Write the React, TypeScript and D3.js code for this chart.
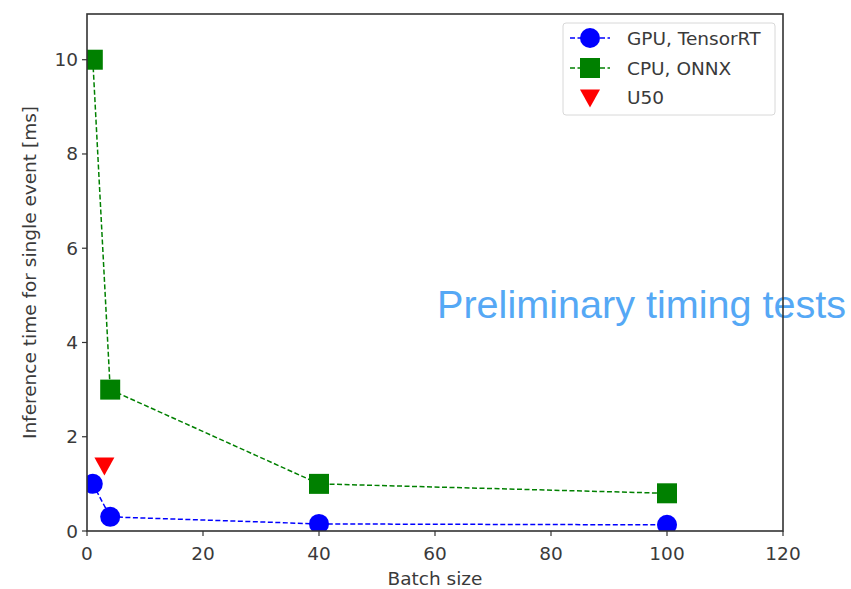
import React from "react";
import * as d3 from "d3";

const gpuBatch = [1, 4, 40, 100];
const gpuTime = [1.0, 0.3, 0.15, 0.13];
const cpuBatch = [1, 4, 40, 100];
const cpuTime = [10.0, 3.0, 1.0, 0.8];
const u50Batch = [3];
const u50Time = [1.4];
const xTicks = [0, 20, 40, 60, 80, 100, 120];
const yTicks = [0, 2, 4, 6, 8, 10];
const legendLabels = ["GPU, TensorRT", "CPU, ONNX", "U50"];

const W = 851, H = 589;
const L = 87, R = 783, T = 14, B = 531;

export default function App() {
  const x = d3.scaleLinear().domain([0, 120]).range([L, R]);
  const y = d3.scaleLinear().domain([0, 10.97]).range([B, T]);
  const line = d3.line<[number, number]>().x(d => x(d[0])).y(d => y(d[1]));
  const gpu = gpuBatch.map((b, i) => [b, gpuTime[i]] as [number, number]);
  const cpu = cpuBatch.map((b, i) => [b, cpuTime[i]] as [number, number]);
  const u50 = u50Batch.map((b, i) => [b, u50Time[i]] as [number, number]);
  const tri = (cx: number, cy: number, s: number) =>
    `M${cx - s},${cy - s * 0.75}L${cx + s},${cy - s * 0.75}L${cx},${cy + s * 1.05}Z`;
  const font = "'DejaVu Sans', sans-serif";
  const fs = 18.5;
  const tc = "#3a3a3a";
  const legY = [38, 68, 97];
  return (
    <svg width={W} height={H} style={{ position: "absolute", left: 0, top: 0, background: "#fff" }}>
      <defs>
        <clipPath id="plotclip">
          <rect x={L} y={T} width={R - L} height={B - T} />
        </clipPath>
      </defs>
      <text x={437} y={318} fontFamily="'Liberation Sans', Arial, sans-serif" fontSize={39.6} fill="#55a8f5">
        Preliminary timing tests
      </text>
      <g clipPath="url(#plotclip)">
        <path d={line(cpu) || ""} fill="none" stroke="#008000" strokeWidth={1.5} strokeDasharray="5,2.5" />
        {cpu.map((d, i) => (
          <rect key={"c" + i} x={x(d[0]) - 10} y={y(d[1]) - 10} width={20} height={20} fill="#008000" />
        ))}
        <path d={line(gpu) || ""} fill="none" stroke="#0000ff" strokeWidth={1.5} strokeDasharray="5,2.5" />
        {gpu.map((d, i) => (
          <circle key={"g" + i} cx={x(d[0])} cy={y(d[1])} r={10} fill="#0000ff" />
        ))}
        {u50.map((d, i) => (
          <path key={"u" + i} d={tri(x(d[0]), y(d[1]), 10)} fill="#ff0000" />
        ))}
      </g>
      <rect x={L} y={T} width={R - L} height={B - T} fill="none" stroke="#333" strokeWidth={1.6} />
      {xTicks.map(t => (
        <g key={"x" + t}>
          <line x1={x(t)} x2={x(t)} y1={B} y2={B + 5} stroke="#333" strokeWidth={1.2} />
          <text x={x(t)} y={560} textAnchor="middle" fontFamily={font} fontSize={fs} fill={tc}>{t}</text>
        </g>
      ))}
      {yTicks.map(t => (
        <g key={"y" + t}>
          <line x1={L - 5} x2={L} y1={y(t)} y2={y(t)} stroke="#333" strokeWidth={1.2} />
          <text x={L - 9} y={y(t) + 6.5} textAnchor="end" fontFamily={font} fontSize={fs} fill={tc}>{t}</text>
        </g>
      ))}
      <text x={(L + R) / 2} y={585} textAnchor="middle" fontFamily={font} fontSize={fs} fill={tc}>Batch size</text>
      <text transform={`translate(36,${(T + B) / 2}) rotate(-90)`} textAnchor="middle" fontFamily={font} fontSize={fs} fill={tc}>
        Inference time for single event [ms]
      </text>
      <rect x={563} y={23} width={212} height={92} rx={3} fill="#fff" fillOpacity={0.85} stroke="#d8d8d8" strokeWidth={1} />
      <line x1={570} x2={610} y1={legY[0]} y2={legY[0]} stroke="#0000ff" strokeWidth={1.5} strokeDasharray="5,2.5" />
      <circle cx={590} cy={legY[0]} r={10} fill="#0000ff" />
      <line x1={570} x2={610} y1={legY[1]} y2={legY[1]} stroke="#008000" strokeWidth={1.5} strokeDasharray="5,2.5" />
      <rect x={580} y={legY[1] - 10} width={20} height={20} fill="#008000" />
      <path d={tri(590, legY[2], 10)} fill="#ff0000" />
      {legendLabels.map((l, i) => (
        <text key={l} x={627} y={legY[i] + 6.5} fontFamily={font} fontSize={fs} fill={tc}>{l}</text>
      ))}
    </svg>
  );
}
